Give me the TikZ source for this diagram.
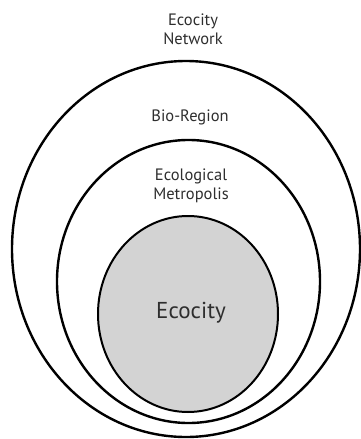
\documentclass[tikz,border=0pt]{standalone}
\usepackage{fontspec}
\setmainfont{PT Sans}
\usetikzlibrary{shapes.geometric}
\definecolor{labelgray}{HTML}{2E2E2E}
\definecolor{cityfill}{HTML}{D3D3D3}
\tikzset{
  ring/.style={ellipse, draw=black, line width=2.4pt, inner sep=0pt},
  label/.style={text=labelgray, align=center, font=\fontsize{16.5}{19}\selectfont, inner sep=0pt},
}
\begin{document}
\begin{tikzpicture}[x=1pt,y=-1pt]
\useasboundingbox (0,0) rectangle (361,439);
\node[ring, minimum width=348pt, minimum height=376pt] (network) at (186,249) {};
\node[ring, minimum width=263pt, minimum height=283pt] (bioregion) at (188.5,281.5) {};
\node[ring, fill=cityfill, line width=2pt, minimum width=180pt, minimum height=196pt] (ecocity) at (188,314) {};
\node[label] (tnetwork) at (193,29) {Ecocity\\Network};
\node[label] (tbio) at (190,117) {Bio-Region};
\node[label] (tmetro) at (191,185.5) {Ecological\\Metropolis};
\node[label, font=\fontsize{23}{27}\selectfont] (tcity) at (191,313) {Ecocity};
\end{tikzpicture}
\end{document}
